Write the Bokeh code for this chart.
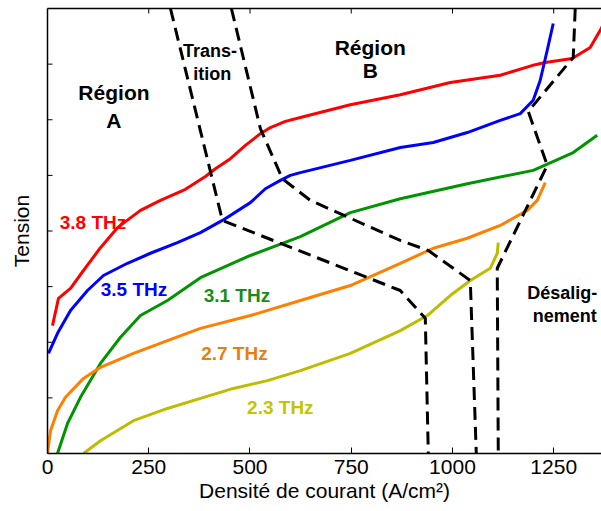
import math
from bokeh.plotting import figure
from bokeh.models import LinearAxis, FixedTicker, Range1d
from bokeh.core.properties import value
from bokeh.embed import file_html
from bokeh.resources import INLINE

# Current density (A/cm^2) and voltage (arb. units) for each lasing frequency
j_38 = [12.3, 27.1, 56.8, 88.8, 130.8, 172.8, 229.5, 278.9, 340.6, 389.9, 414.6,
        451.6, 488.7, 525.7, 550.4, 587.4, 624.4, 747.8, 871.2, 994.6, 1118.0,
        1204.4, 1229.1, 1295.7, 1340.1, 1367.3, 1390.0]
v_38 = [2.30, 2.79, 2.97, 3.29, 3.70, 4.06, 4.37, 4.55, 4.75, 4.98, 5.12,
        5.30, 5.54, 5.75, 5.86, 5.97, 6.04, 6.27, 6.45, 6.67, 6.80,
        6.99, 7.03, 7.10, 7.30, 7.64, 8.00]

j_35 = [2.5, 24.7, 56.8, 98.7, 138.2, 197.4, 254.2, 320.8, 377.6, 431.9, 501.0,
        538.0, 575.0, 599.7, 624.4, 747.8, 871.2, 952.6, 1036.6, 1118.0, 1167.4,
        1199.4, 1216.7, 1234.0, 1248.8]
v_35 = [1.80, 2.16, 2.57, 2.93, 3.20, 3.42, 3.60, 3.79, 3.97, 4.19, 4.51,
        4.76, 4.91, 5.00, 5.05, 5.27, 5.50, 5.59, 5.77, 5.99, 6.11,
        6.35, 6.71, 7.25, 7.73]

j_31 = [24.7, 49.4, 81.4, 130.8, 180.2, 229.5, 296.2, 377.6, 501.0, 624.4,
        747.8, 871.2, 1036.6, 1199.4, 1298.2, 1357.4]
v_31 = [0.00, 0.54, 1.01, 1.62, 2.09, 2.48, 2.75, 3.16, 3.56, 3.90,
        4.33, 4.58, 4.85, 5.09, 5.41, 5.72]

j_27 = [0.0, 7.4, 24.7, 44.4, 88.8, 130.8, 212.2, 296.2, 377.6, 501.0, 624.4,
        747.8, 871.2, 952.6, 1036.6, 1118.0, 1184.6, 1209.3, 1229.1]
v_27 = [0.00, 0.41, 0.77, 1.01, 1.35, 1.55, 1.80, 2.03, 2.25, 2.48, 2.75,
        3.02, 3.42, 3.69, 3.87, 4.10, 4.37, 4.55, 4.87]

j_23 = [88.8, 130.8, 212.2, 296.2, 377.6, 459.0, 543.0, 624.4, 747.8, 871.2,
        937.8, 994.6, 1044.0, 1093.3, 1110.6, 1113.1]
v_23 = [0.00, 0.23, 0.59, 0.81, 0.99, 1.17, 1.31, 1.49, 1.80, 2.21,
        2.48, 2.84, 3.11, 3.33, 3.60, 3.79]

series = [
    ("3.8 THz", j_38, v_38, "#ff0000"),
    ("3.5 THz", j_35, v_35, "#0000ff"),
    ("3.1 THz", j_31, v_31, "#009400"),
    ("2.7 THz", j_27, v_27, "#ff8000"),
    ("2.3 THz", j_23, v_23, "#bcbc00"),
]

# Boundaries between operating regions
edge_a_j = [303.6, 431.9, 871.2, 932.9, 940.3]
edge_a_v = [8.00, 4.19, 2.93, 2.43, 0.00]
edge_b_j = [454.1, 525.7, 580.0, 649.1, 871.2, 940.3, 1044.0, 1058.8]
edge_b_v = [8.00, 5.84, 4.94, 4.55, 3.83, 3.65, 3.11, 0.00]
edge_c_j = [1303.1, 1298.2, 1187.1, 1234.0, 1110.6, 1113.1]
edge_c_v = [8.00, 7.12, 6.15, 5.18, 3.33, 0.00]

x_ticks = [0, 250, 500, 750, 1000, 1250]
y_ticks = [0, 1, 2, 3, 4, 5, 6, 7, 8]

FONT = "Liberation Sans"

p = figure(width=601, height=511, output_backend="svg", toolbar_location=None,
           x_range=Range1d(0, 1368), y_range=Range1d(0, 8),
           min_border_left=47, min_border_right=0, min_border_top=8,
           min_border_bottom=58, x_axis_label="Densité de courant (A/cm²)",
           y_axis_label="Tension")
p.outline_line_color = None
p.grid.visible = False
p.background_fill_color = "white"
p.border_fill_color = "white"

xa = p.xaxis[0]
xa.ticker = FixedTicker(ticks=x_ticks)
xa.major_tick_in = 6
xa.major_tick_out = 0
xa.minor_tick_line_color = None
xa.axis_line_width = 1.5
xa.axis_line_color = "black"
xa.major_label_text_font = FONT
xa.major_label_text_font_size = "21px"
xa.major_label_text_color = "black"
xa.major_label_standoff = 6
xa.axis_label_text_font = FONT
xa.axis_label_text_font_size = "21px"
xa.axis_label_text_font_style = "normal"
xa.axis_label_text_color = "black"
xa.axis_label_standoff = 2

# Left axis: line and title only; its inward ticks are drawn below
ya = p.yaxis[0]
ya.ticker = FixedTicker(ticks=[])
ya.minor_tick_line_color = None
ya.axis_line_width = 1.5
ya.axis_line_color = "black"
ya.axis_label_text_font = FONT
ya.axis_label_text_font_size = "21px"
ya.axis_label_text_font_style = "normal"
ya.axis_label_text_color = "black"
ya.axis_label_standoff = 15

top = LinearAxis(ticker=FixedTicker(ticks=[]), minor_tick_line_color=None,
                 axis_line_width=1.5, axis_line_color="black")
p.add_layout(top, "above")

# Inward tick marks on the left and top edges
p.ray(x=[0] * len(y_ticks), y=y_ticks, length=5, length_units="screen",
      angle=0, line_color="black", line_width=1)
p.ray(x=x_ticks, y=[8] * len(x_ticks), length=5, length_units="screen",
      angle=-math.pi / 2, line_color="black", line_width=1)

for name, j, v, lc in series:
    p.line(j, v, line_color=lc, line_width=3)

for ej, ev in [(edge_a_j, edge_a_v), (edge_b_j, edge_b_v), (edge_c_j, edge_c_v)]:
    p.line(ej, ev, line_color="black", line_width=3, line_dash="13 7")

# Frequency labels next to each curve
freq_labels = [
    ("3.8 THz", 112.3, 4.15, "#ff0000"),
    ("3.5 THz", 213.5, 2.95, "#0000ff"),
    ("3.1 THz", 467.7, 2.84, "#1a8c1a"),
    ("2.7 THz", 461.5, 1.80, "#e5800f"),
    ("2.3 THz", 575.0, 0.83, "#c4c400"),
]
for t, x, y, c in freq_labels:
    p.text([x], [y], text=[t], text_color=c, text_font=value(FONT),
           text_font_size="19px", text_font_style="bold",
           text_align="center", text_baseline="alphabetic")

# Region names
region_labels = [
    ("Région", 164.1, 6.49, "21px"),
    ("A", 164.1, 5.99, "21px"),
    ("Région", 797.0, 7.30, "21px"),
    ("B", 797.0, 6.89, "21px"),
    ("Trans-", 401.0, 7.23, "18px"),
    ("ition", 407.0, 6.83, "18px"),
    ("Désalig-", 1271.0, 2.88, "18px"),
    ("nement", 1277.0, 2.48, "18px"),
]
for t, x, y, fs in region_labels:
    p.text([x], [y], text=[t], text_color="black", text_font=value(FONT),
           text_font_size=fs, text_font_style="bold",
           text_align="center", text_baseline="alphabetic")

open("out.html", "w").write(file_html(p, INLINE))
